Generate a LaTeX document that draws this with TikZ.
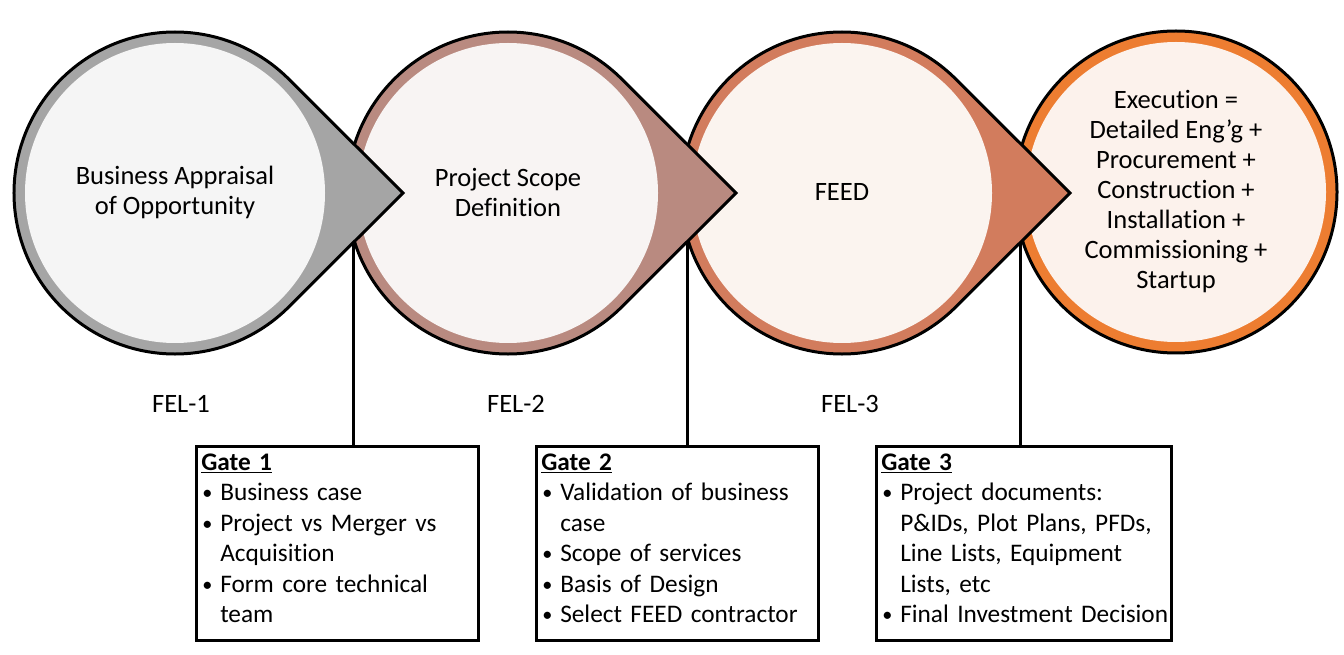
\documentclass[tikz,border=0pt]{standalone}
\usepackage{fontspec}
\setmainfont{Carlito}[Ligatures={NoCommon}]
\usetikzlibrary{calc}
\definecolor{bandA}{HTML}{A5A5A5}
\definecolor{fillA}{HTML}{F5F5F5}
\definecolor{bandB}{HTML}{B98A80}
\definecolor{fillB}{HTML}{F8F4F3}
\definecolor{bandC}{HTML}{D27C5D}
\definecolor{fillC}{HTML}{FBF4EF}
\definecolor{bandD}{HTML}{ED7D31}
\definecolor{fillD}{HTML}{FCF2EC}
\newcommand\tdrop[4]{%
  \filldraw[fill=#3, draw=black, line width=3pt, line join=miter]
    (#1+228,#2) -- (#1+113.84,#2+113.84)
    arc[start angle=45, end angle=315, radius=161pt] -- cycle;
  \fill[#4] (#1,#2) circle[radius=150pt];}
\newcommand\bitem[1]{\mbox{\makebox[19pt][l]{\hspace{1pt}\raisebox{1pt}{\scalebox{0.8}{\textbullet}}}#1}}
\newcommand\citem[1]{\mbox{\hspace*{19pt}#1}}
\tikzset{
  phasetext/.style={align=center, font=\fontsize{26.5pt}{30pt}\selectfont, inner sep=0pt},
  fellabel/.style={font=\fontsize{26.5pt}{30pt}\selectfont, inner sep=0pt},
  gatebox/.style={draw=black, line width=2.5pt, fill=white, anchor=north west,
    inner sep=0pt, minimum height=194pt},
  gatetext/.style={align=left, inner sep=0pt, yshift=5pt,
    font=\fontsize{25.3pt}{30.5pt}\selectfont},
  gateline/.style={draw=black, line width=3pt}
}
\begin{document}
\begin{tikzpicture}[x=1pt,y=1pt]
\useasboundingbox (0,0) rectangle (1344,654);
\fill[white] (0,0) rectangle (1344,654);
% phase 4 (plain circle)
\filldraw[fill=bandD, draw=black, line width=3pt] (1176,462) circle[radius=161pt];
\fill[fillD] (1176,462) circle[radius=150pt];
% phases 3, 2, 1 (teardrops, earlier ones on top)
\tdrop{842}{461}{bandC}{fillC}
\tdrop{508}{461}{bandB}{fillB}
\tdrop{175}{461}{bandA}{fillA}
% texts in the circles
\node[phasetext] (t1) at (175,462) {Business Appraisal\\of Opportunity};
\node[phasetext] (t2) at (508,462) {Project Scope\\Definition};
\node[phasetext] (t3) at (842,462) {FEED};
\node[phasetext] (t4) at (1176,462.5) {Execution =\\Detailed Eng’g +\\Procurement +\\Construction +\\Installation +\\Commissioning +\\Startup};
% FEL labels
\node[fellabel] (fel1) at (181,250) {FEL-1};
\node[fellabel] (fel2) at (516,250) {FEL-2};
\node[fellabel] (fel3) at (850,250) {FEL-3};
% gate boxes
\node[gatebox, minimum width=282pt] (gate1) at (195,209) {};
\node[gatetext, text width=272pt] (gate1t) at (gate1.center) {%
  \underline{\textbf{Gate 1}}\\
  \bitem{Business case}\\
  \bitem{Project vs Merger vs}\\
  \citem{Acquisition}\\
  \bitem{Form core technical}\\
  \citem{team}};
\node[gatebox, minimum width=282pt] (gate2) at (535,209) {};
\node[gatetext, text width=272pt] (gate2t) at (gate2.center) {%
  \underline{\textbf{Gate 2}}\\
  \bitem{Validation of business}\\
  \citem{case}\\
  \bitem{Scope of services}\\
  \bitem{Basis of Design}\\
  \bitem{Select FEED contractor}};
\node[gatebox, minimum width=295pt] (gate3) at (875,209) {};
\node[gatetext, text width=285pt] (gate3t) at (gate3.center) {%
  \underline{\textbf{Gate 3}}\\
  \bitem{Project documents:}\\
  \citem{P\&IDs, Plot Plans, PFDs,}\\
  \citem{Line Lists, Equipment}\\
  \citem{Lists, etc}\\
  \bitem{Final Investment Decision}};
% gate connectors from the pointer edges
\coordinate (e1) at (353,411);
\coordinate (e2) at (687,412);
\coordinate (e3) at (1020,411);
\draw[gateline] (e1) -- (e1 |- gate1.north);
\draw[gateline] (e2) -- (e2 |- gate2.north);
\draw[gateline] (e3) -- (e3 |- gate3.north);
\end{tikzpicture}
\end{document}
